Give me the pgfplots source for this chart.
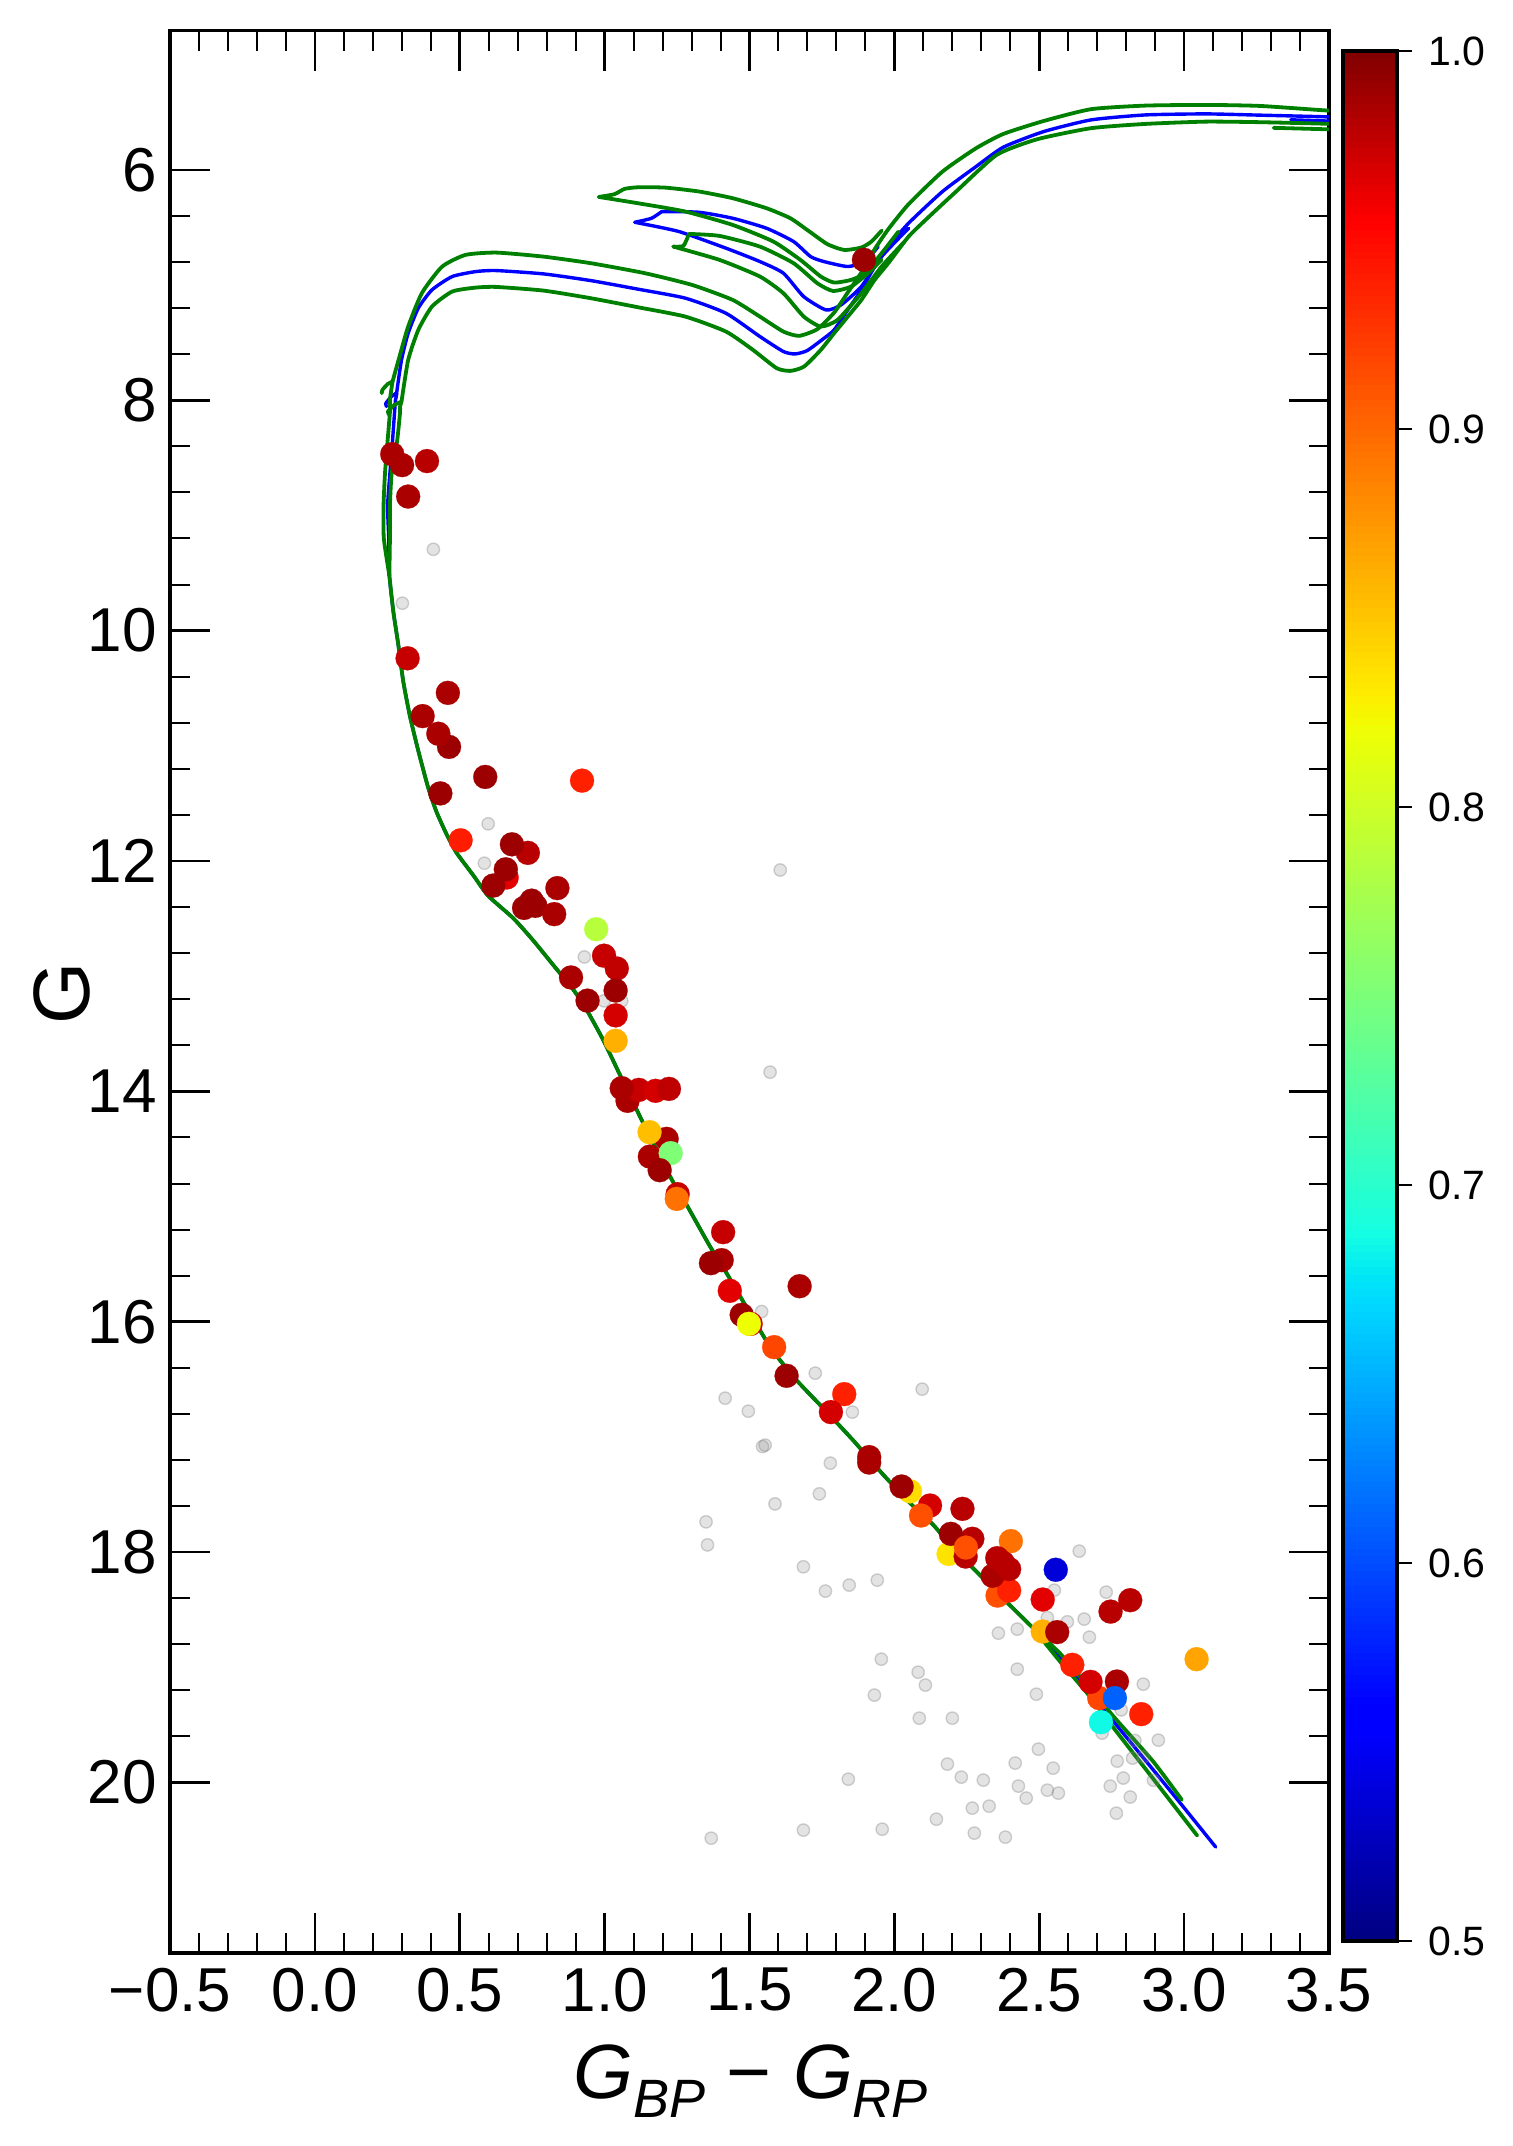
\documentclass[border=0pt]{standalone}
\usepackage{fontspec}
\setmainfont{Liberation Sans}
\usepackage{pgfplots}
\pgfplotsset{compat=1.18}
\definecolor{dgreen}{RGB}{0,128,0}
\pgfplotsset{
 colormap={mpljet}{
  rgb(0)=(0,0,.5) rgb(110)=(0,0,1) rgb(125)=(0,0,1) rgb(340)=(0,.86,1) rgb(350)=(0,.9,.968)
  rgb(375)=(.081,1,.887) rgb(640)=(.935,1,.016) rgb(650)=(.968,.963,0) rgb(660)=(1,.926,0)
  rgb(890)=(1,.074,0) rgb(910)=(1,0,0) rgb(1000)=(.5,0,0)},
 isoG/.style={dgreen,line width=1.9pt,line join=round,line cap=round,no markers,forget plot,smooth,tension=.35},
 isoB/.style={blue,line width=1.7pt,line join=round,line cap=round,no markers,forget plot,smooth,tension=.35},
}
\begin{document}
\begin{tikzpicture}
\useasboundingbox (0,0) rectangle (756pt,1073pt);
\begin{axis}[
 at={(85pt,96.5pt)},anchor=south west,scale only axis,width=579.5pt,height=961.25pt,
 xmin=-0.5,xmax=3.5,ymin=4.79,ymax=21.48,y dir=reverse,
 xtick={-0.5,0,0.5,1,1.5,2,2.5,3,3.5},
 xticklabels={−0.5,0.0,0.5,1.0,1.5,2.0,2.5,3.0,3.5},
 ytick={6,8,10,12,14,16,18,20},
 yticklabels={6,8,10,12,14,16,18,20},
 minor x tick num=4,minor y tick num=4,
 tick pos=both,tick align=inside,
 major tick length=20pt,minor tick length=10pt,
 every major tick/.append style={line width=1.3pt,black},
 every minor tick/.append style={line width=1pt,black},
 axis line style={line width=1.65pt,black},
 tick label style={font=\fontsize{31}{36}\selectfont},
 xticklabel style={yshift=-4pt},
 yticklabel style={xshift=-3pt},
 xlabel={\fontsize{38.5}{44}\selectfont\itshape G\raisebox{-.25em}{\fontsize{27}{30}\selectfont BP}\;{\upshape −}\;G\raisebox{-.25em}{\fontsize{27}{30}\selectfont RP}},
 xlabel style={at={(axis description cs:0.501,-0.0666)},anchor=center},
 ylabel={\fontsize{40}{44}\selectfont G},
 ylabel style={at={(axis description cs:-0.0932,0.499)},anchor=center},
 colormap name=mpljet,
 point meta min=0.5,point meta max=1,
 colorbar sampled,
 colorbar style={
  at={(1.01208,0.9893)},anchor=north west,
  scale only axis,width=27pt,height=945pt,
  samples=256,
  ytick=\empty,
  axis line style={line width=1.65pt,black},
 },
]
% field stars
\addplot[only marks,mark=*,mark size=3.1pt,mark options={fill=gray,fill opacity=.22,draw=gray,draw opacity=.35,line width=.7pt},forget plot] table {
x y
0.409 9.294
0.302 9.762
0.598 11.677
0.585 12.019
1.606 12.078
0.930 12.833
0.998 13.214
1.059 13.214
1.571 13.833
1.542 15.911
1.727 16.446
1.416 16.663
1.496 16.776
1.545 17.083
1.554 17.071
1.855 16.784
2.096 16.585
1.779 17.227
1.741 17.494
1.588 17.581
2.638 17.991
2.552 18.33
2.731 18.347
2.528 18.568
2.597 18.605
2.655 18.581
2.673 18.738
2.424 18.668
2.359 18.703
1.941 18.243
1.844 18.286
1.762 18.338
1.686 18.127
1.350 17.737
1.355 17.937
1.955 18.929
2.082 19.042
2.107 19.154
1.931 19.241
2.424 19.016
2.490 19.233
2.086 19.441
2.200 19.441
2.859 19.146
2.783 19.369
2.911 19.632
2.830 19.635
2.717 19.571
2.497 19.71
2.417 19.831
2.548 19.875
2.183 19.84
2.231 19.953
2.307 19.979
2.428 20.031
2.455 20.135
2.528 20.066
2.566 20.092
2.769 19.814
2.822 19.788
2.859 19.779
2.790 19.961
2.745 20.031
2.894 19.98
2.814 20.126
2.766 20.266
1.841 19.971
2.269 20.222
2.327 20.205
2.145 20.318
1.958 20.405
2.276 20.439
2.383 20.474
1.368 20.483
1.686 20.413
};
% blue isochrone
\addplot[isoB] coordinates {
(3.109,20.56)(3.009,20.248)(2.894,19.892)(2.761,19.484)(2.664,19.18)(2.572,18.92)(2.479,18.66)
(2.388,18.434)(2.284,18.17)(2.203,17.965)(2.134,17.763)(2.054,17.574)(1.962,17.329)(1.858,17.03)
(1.755,16.752)(1.663,16.509)(1.582,16.258)(1.525,16.027)(1.421,15.578)(1.364,15.347)(1.283,14.985)
(1.226,14.739)(1.122,14.218)(1.053,13.857)(0.995,13.553)(0.938,13.292)(0.892,13.117)(0.823,12.904)
(0.754,12.691)(0.685,12.497)(0.598,12.302)(0.547,12.125)(0.489,11.929)(0.455,11.77)(0.420,11.575)
(0.391,11.363)(0.357,11.044)(0.328,10.742)(0.305,10.441)(0.288,10.123)(0.271,9.839)(0.257,9.52)
(0.255,9.2)(0.251,8.918)(0.259,8.634)(0.268,8.351)(0.278,8.0)};
\addplot[isoB] coordinates {(0.278,8.0)(0.282,7.939)(0.264,7.968)(0.245,8.026)(0.247,8.055)};
\addplot[isoB] coordinates {(0.282,7.939)
(0.299,7.65)(0.322,7.418)(0.357,7.2)(0.404,7.042)(0.474,6.926)(0.555,6.883)(0.625,6.874)(0.789,6.903)
(0.952,6.961)(1.116,7.036)(1.279,7.114)(1.419,7.245)(1.536,7.447)(1.617,7.577)(1.657,7.598)(1.699,7.569)
(1.757,7.462)(1.792,7.389)(1.839,7.216)(1.886,7.042)(1.932,6.839)(1.979,6.666)(2.049,6.463)(2.166,6.188)
(2.282,5.971)(2.376,5.803)(2.516,5.667)(2.679,5.566)(2.866,5.523)(3.076,5.514)(3.263,5.525)(3.496,5.54)(3.683,5.56)};
\addplot[isoB] coordinates {(3.368,5.565)(3.6,5.585)};
\addplot[isoB] coordinates {(1.944,6.666)(1.898,6.796)(1.839,6.839)(1.757,6.796)(1.711,6.753)(1.652,6.622)(1.559,6.507)(1.442,6.42)(1.326,6.368)(1.197,6.362)};
\addplot[isoB] coordinates {(1.197,6.362)(1.162,6.42)(1.104,6.455)};
\addplot[isoB] coordinates {(1.104,6.455)(1.256,6.535)(1.419,6.68)(1.536,6.796)(1.617,6.897)(1.687,7.1)(1.764,7.216)(1.816,7.172)(1.886,7.013)(1.956,6.753)(2.049,6.507)};
% green isochrones
\addplot[isoG] coordinates {(2.992,20.15)(2.894,19.82)(2.761,19.44)(2.664,19.15)(2.572,18.88)(2.479,18.66)};
\addplot[isoG] coordinates {(3.045,20.46)(2.894,19.97)(2.761,19.54)(2.664,19.22)(2.572,18.95)(2.479,18.66)};
\addplot[isoG] coordinates {
(2.479,18.66)(2.388,18.434)(2.284,18.17)(2.203,17.965)(2.134,17.763)(2.054,17.574)(1.962,17.329)(1.858,17.03)
(1.755,16.752)(1.663,16.509)(1.582,16.258)(1.525,16.027)(1.421,15.578)(1.364,15.347)(1.283,14.985)
(1.226,14.739)(1.122,14.218)(1.053,13.857)(0.995,13.553)(0.938,13.292)(0.892,13.117)(0.823,12.904)
(0.754,12.691)(0.685,12.497)(0.598,12.302)(0.547,12.125)(0.489,11.929)(0.455,11.77)(0.420,11.575)
(0.391,11.363)(0.357,11.044)(0.328,10.742)(0.305,10.441)(0.288,10.123)(0.271,9.839)(0.257,9.52)};
% upper green
\addplot[isoG] coordinates {
(0.257,9.52)(0.238,9.2)(0.237,8.918)(0.242,8.634)(0.251,8.351)(0.259,8.103)(0.259,7.997)(0.268,7.838)};
\addplot[isoG] coordinates {(0.268,7.838)(0.252,7.858)(0.233,7.91)(0.231,7.939)};
\addplot[isoG] coordinates {(0.268,7.838)
(0.292,7.621)(0.322,7.36)(0.369,7.071)(0.439,6.84)(0.520,6.738)(0.626,6.718)(0.789,6.753)(0.952,6.81)(1.139,6.897)(1.302,6.999)(1.442,7.129)(1.536,7.274)(1.617,7.404)(1.671,7.441)(1.734,7.383)
(1.792,7.239)(1.839,7.065)(1.886,6.891)(1.932,6.689)(1.979,6.515)(2.049,6.298)(2.166,6.015)(2.282,5.812)(2.376,5.688)(2.516,5.575)(2.679,5.473)(2.866,5.442)(3.076,5.436)(3.263,5.445)(3.496,5.485)(3.683,5.508)};
\addplot[isoG] coordinates {(1.956,6.527)(1.921,6.622)(1.886,6.674)(1.827,6.695)(1.769,6.645)(1.699,6.521)(1.641,6.42)(1.559,6.333)(1.442,6.246)(1.326,6.188)(1.209,6.154)(1.116,6.151)(1.069,6.165)(1.034,6.211)(0.980,6.235)};
\addplot[isoG] coordinates {(0.980,6.235)
(1.116,6.29)(1.279,6.362)(1.442,6.478)(1.582,6.622)(1.676,6.782)(1.746,6.926)(1.792,6.978)(1.851,6.955)(1.898,6.897)(1.956,6.724)(2.014,6.536)};
% lower green
\addplot[isoG] coordinates {
(0.257,9.52)(0.259,9.2)(0.259,8.918)(0.265,8.634)(0.284,8.351)(0.294,8.103)(0.294,8.055)(0.299,8.012)};
\addplot[isoG] coordinates {(0.299,8.012)(0.275,8.04)(0.252,8.098)(0.257,8.127)};
\addplot[isoG] coordinates {(0.299,8.012)
(0.322,7.65)(0.357,7.389)(0.404,7.187)(0.474,7.056)(0.555,7.022)(0.625,7.016)(0.789,7.048)(0.952,7.114)(1.116,7.193)(1.279,7.274)(1.419,7.404)(1.512,7.563)(1.594,7.722)(1.641,7.745)(1.688,7.708)(1.746,7.563)
(1.792,7.418)(1.839,7.274)(1.886,7.129)(1.932,6.955)(1.979,6.81)(2.049,6.579)(2.12,6.405)(2.213,6.188)(2.353,5.87)(2.493,5.734)(2.679,5.638)(2.866,5.601)(3.076,5.581)(3.263,5.586)(3.496,5.60)(3.683,5.62)};
\addplot[isoG] coordinates {(3.309,5.635)(3.6,5.655)};
\addplot[isoG] coordinates {(1.956,6.781)(1.909,6.897)(1.851,7.013)(1.788,7.051)(1.734,6.984)(1.652,6.81)(1.536,6.666)(1.396,6.573)(1.291,6.556)};
\addplot[isoG] coordinates {(1.291,6.556)(1.272,6.66)(1.237,6.666)};
\addplot[isoG] coordinates {(1.237,6.666)
(1.396,6.781)(1.536,6.926)(1.617,7.071)(1.687,7.273)(1.746,7.36)(1.804,7.302)(1.886,7.071)(1.956,6.839)(2.033,6.628)};
% members
\addplot[scatter,only marks,mark=*,mark size=6pt,scatter src=explicit,
 scatter/use mapped color={draw=mapped color,fill=mapped color},mark options={line width=.1pt},forget plot]
 table[x=x,y=y,meta=m] {
x y m
0.267 8.468 .985
0.301 8.563 .985
0.387 8.528 .98
0.322 8.836 .985
0.320 10.24 .975
0.459 10.54 .985
0.372 10.742 .985
0.463 11.009 .99
0.426 10.895 .985
0.588 11.27 .99
0.433 11.413 .99
0.922 11.302 .938
0.503 11.82 .94
0.735 11.929 .98
0.680 11.855 .99
0.662 12.143 .965
0.659 12.072 .99
0.616 12.213 .99
0.722 12.407 .99
0.761 12.389 .99
0.748 12.344 .99
0.826 12.461 .985
0.837 12.235 .985
0.971 12.592 .786
0.998 12.822 .975
1.042 12.933 .977
0.884 13.011 .985
1.038 13.124 .99
0.941 13.212 .99
1.038 13.34 .97
1.038 13.561 .862
1.079 14.082 .985
1.118 13.987 .975
1.176 13.995 .97
1.222 13.978 .978
1.059 13.972 .985
1.214 14.412 .985
1.155 14.354 .854
1.156 14.566 .985
1.228 14.536 .752
1.190 14.684 .99
1.252 14.892 .975
1.249 14.933 .895
1.409 15.222 .975
1.404 15.465 .985
1.367 15.491 .99
1.432 15.731 .965
1.473 15.94 .99
1.504 16.018 .97
1.498 16.018 .82
1.585 16.22 .918
1.628 16.469 .99
1.673 15.691 .985
1.827 16.628 .938
1.781 16.784 .97
1.913 17.222 .985
1.913 17.175 .985
2.054 17.472 .838
2.025 17.43 .99
2.123 17.595 .97
2.092 17.682 .913
2.235 17.624 .98
2.187 18.015 .835
2.269 17.884 .98
2.195 17.841 .99
2.246 18.038 .98
2.247 17.96 .913
2.402 17.904 .895
2.356 18.377 .913
2.396 18.333 .938
2.339 18.205 .985
2.355 18.052 .98
2.375 18.093 .98
2.396 18.147 .98
2.557 18.153 .538
2.512 18.411 .965
2.814 18.417 .98
2.746 18.516 .98
2.512 18.689 .862
2.562 18.694 .985
3.043 18.929 .868
2.614 18.978 .938
2.768 19.123 .985
2.707 19.267 .918
2.677 19.126 .97
2.761 19.267 .61
2.852 19.406 .938
2.713 19.476 .685
1.895 6.781 .99
};
\end{axis}
% ticks and labels of the colour bar
\begin{axis}[
 at={(671.5pt,102.5pt)},anchor=south west,scale only axis,width=27pt,height=945pt,
 xmin=0,xmax=1,ymin=0.5,ymax=1,
 xtick=\empty,
 ytick={0.5,0.6,0.7,0.8,0.9,1.0},
 yticklabels={0.5,0.6,0.7,0.8,0.9,1.0},
 ytick pos=right,yticklabel pos=right,tick align=outside,major tick length=7.5pt,
 every major tick/.append style={line width=1.3pt,black},
 axis line style={line width=1.65pt,black},
 yticklabel style={font=\fontsize{20.5}{24}\selectfont,xshift=4.7pt},
]
\end{axis}
\end{tikzpicture}
\end{document}
